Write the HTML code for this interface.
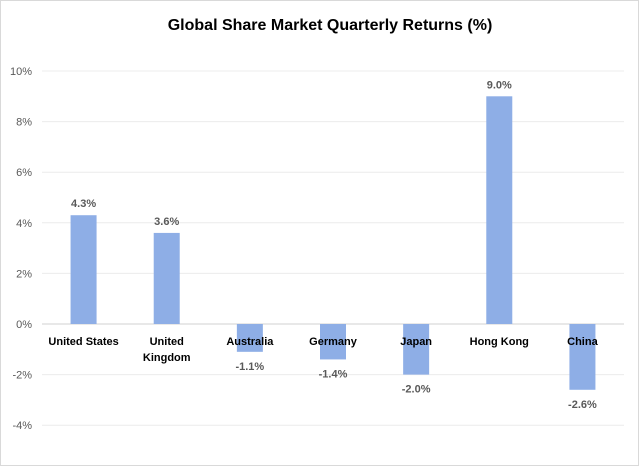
<!DOCTYPE html>
<html><head><meta charset="utf-8"><style>
body{margin:0;background:#fff}
svg{display:block;font-family:"Liberation Sans",Arial,sans-serif}
</style></head><body>
<svg id="c" width="639" height="466">
<rect x="0.5" y="0.5" width="638" height="465" fill="#fff" stroke="#d9d9d9"/>
<text x="330" y="30" text-anchor="middle" font-size="16" font-weight="bold" fill="#000">Global Share Market Quarterly Returns (%)</text>
<g id="grid"></g><g id="bars"></g><g id="labels"></g>
</svg>
<script>
const categories=[["United States"],["United","Kingdom"],["Australia"],["Germany"],["Japan"],["Hong Kong"],["China"]];
const values=[4.3,3.6,-1.1,-1.4,-2.0,9.0,-2.6];
const ticks=[-4,-2,0,2,4,6,8,10];
const NS="http://www.w3.org/2000/svg";
const x0=42,x1=624,band=(x1-x0)/categories.length;
const y=v=>324-v*25.3;
const xc=i=>x0+band*(i+0.5);
function mk(t,a,p){const e=document.createElementNS(NS,t);for(const k in a)e.setAttribute(k,a[k]);p.appendChild(e);return e;}
const g=document.getElementById('grid'),b=document.getElementById('bars'),l=document.getElementById('labels');
ticks.forEach(t=>{
 const ln=mk('line',{x1:x0,x2:x1,y1:y(t),y2:y(t),stroke:t===0?'#d0d0d0':'#ececec','stroke-width':1},g);
 
 
 const tx=mk('text',{x:32,y:y(t)+4,'text-anchor':'end','font-size':11,fill:'#595959'},g);
 tx.textContent=t+'%';
 
 
});
values.forEach((v,i)=>{
 const r=mk('rect',{x:xc(i)-13,width:26,y:Math.min(y(v),y(0)),height:Math.abs(y(v)-y(0)),fill:'#8eaee6'},b);
 
 
 const vl=mk('text',{x:xc(i),y:v>=0?y(v)-8:y(v)+18,'text-anchor':'middle','font-size':11,'font-weight':'bold',fill:'#595959'},l);
 vl.textContent=v.toFixed(1)+'%';
 
 
 categories[i].forEach((s,j)=>{
  const cl=mk('text',{x:xc(i),y:345+j*16,'text-anchor':'middle','font-size':11,'font-weight':'bold',fill:'#000'},l);
  cl.textContent=s;
  
  
 });
});
</script>
</body></html>
